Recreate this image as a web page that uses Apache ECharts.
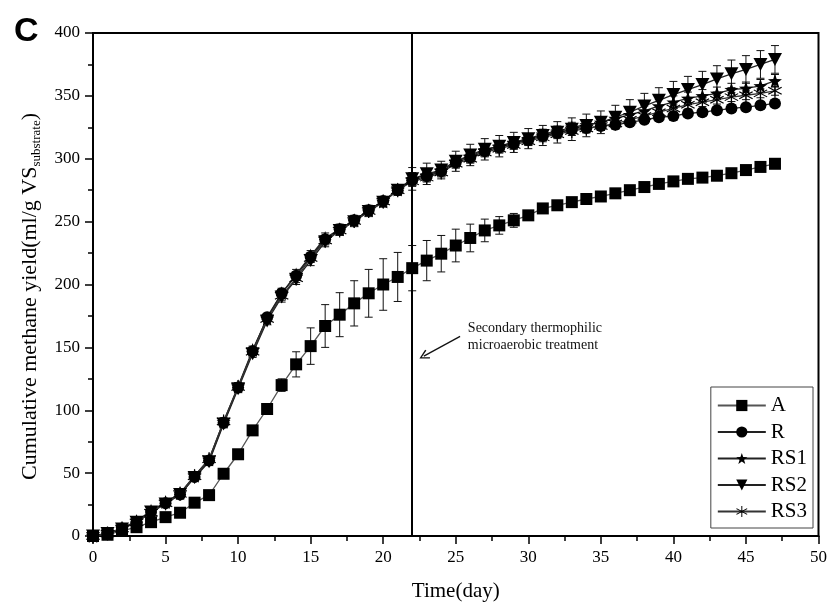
<!DOCTYPE html>
<html><head><meta charset="utf-8">
<script src="https://cdn.jsdelivr.net/npm/echarts@6/dist/echarts.min.js"></script>
<style>html,body{margin:0;padding:0;background:#fff}#c{width:830px;height:607px}</style>
</head><body><div id="c"></div>
<script>
// ---- data ----
const days = [0,1,2,3,4,5,6,7,8,9,10,11,
  12,13,14,15,16,17,18,19,20,21,22,23,
  24,25,26,27,28,29,30,31,32,33,34,35,
  36,37,38,39,40,41,42,43,44,45,46,47];
const seriesNames = ['A','R','RS1','RS2','RS3'];
const valsA = [0,1,4,7,11,15,18.5,26.5,32.5,49.5,65,84,
  101,120,136.5,151,167,176,185,193,200,206,213,219,
  224.5,231,237,243,247,251,255,260.5,263,265.5,268,270,
  272.5,275,277.5,280,282,284,285,286.5,288.5,291,293.5,296];
const errA = [0,0.5,1,1,1.5,1.5,2,3,3,3,3,3,
  3,5,10,14.5,17,17.5,18,19,20.5,19.5,18,16,
  14.5,13,11,9,7,5.5,3.5,2.5,2,2,1.5,1.5,
  1.5,1.5,1.5,1.5,1.5,1.5,1.5,1.5,1.5,1.5,1.5,1.5];
const valsR = [0,2,6,11,19,26,33,47,60,90,118,147,
  174,193,207,222,236,244,251,259,266.5,275,283,286,
  290,297,301,306,309,312,315,318,320.5,323,324.5,326,
  327,329,331,333,334,336,337,338.5,340,341,342.5,344];
const errR = [0,0.5,1,1,1.5,1.5,2,2,2,2.5,3,3,
  3,3,3,3,3,3,3,3,3,3,4,3,
  3,3,3,3,3,3,3,3,3,3,3,3,
  3,3,3,3,3,3,3,3,3,3,3,3];
const valsRS1 = [0,2,6,12,20,27,34,48,61,91,119,148,
  173,193,208,223,237,244,251,259,266,275.5,284,287,
  291,298,302,307,310,313,316,319.5,322,325,327,329,
  332,335,338,342,345,348,350,352,355,356,358,362];
const errRS1 = [0,0.5,1,1,1.5,1.5,2,2,2,3,3,3,
  3,4,4,4,4,4,4,4,4,4,5,4,
  4,4,4,4,4,4,4,4,4,4,4,4,
  4,4,4,5,5,5,5,5,5,5,5,5];
const valsRS2 = [0,2,5.5,11,19,25.5,33,46.5,59,89,117,145,
  171,190,204,219,234,243,250,258,265.5,275,284,288,
  291,298,303,307.5,310,313,316,318.5,321,323.5,326.5,329,
  333,337,342,346.5,351,355,359,363.5,367.5,371,375,379];
const errRS2 = [0,1,1,1.5,2,2,2,2.5,3,3,3,3,
  3,4,4,4,4,4,4,4,4,4,9,8.5,
  7,8,8.5,8.5,8.5,8,8,8,8.5,9,9,9,
  9.5,10,10,10,10.5,10.5,10.5,10.5,11,11,11,11];
const valsRS3 = [0,2,6,11,18.5,26,33.5,47.5,61,91,118.5,146.5,
  172.5,191,205,221,235,243,250.5,258.5,266,275,282,285,
  289,296,300,305,308,311,314,317,319.5,322,324,326,
  328,331,334,337,340,343,345,347,349,350.5,352,354];
const errRS3 = [0,0.5,1,1,1.5,1.5,2,2,2,2.5,3,3,
  3,3.5,3.5,3.5,3.5,3.5,3.5,3.5,3.5,3.5,4,3.5,
  3.5,3.5,3.5,3.5,3.5,3.5,3.5,3.5,3.5,3.5,3.5,3.5,
  3.5,3.5,3.5,3.5,3.5,3.5,3.5,3.5,3.5,3.5,3.5,3.5];
const xTicks = {min:0, max:50, interval:5};
const yTicks = {min:0, max:400, interval:50};
const treatmentDay = 22;
const noteText = 'Secondary thermophilic\nmicroaerobic treatment';
const arrowFrom = [25.3, 158.7];
const arrowTo = [22.8, 143];
const noteAnchor = [25.8, 158.5];

// ---- styles ----
const starPath = 'path://M10,0 L12.35,6.76 L19.51,6.91 L13.8,11.24 L15.88,18.09 L10,14 L4.12,18.09 L6.2,11.24 L0.49,6.91 L7.65,6.76 Z';
const triPath = 'path://M0,0 L20,0 L10,18 Z';
const astPath = 'path://M9.2,0 L10.8,0 L10.8,20 L9.2,20 Z M0.94,5.69 L1.74,4.31 L19.06,14.31 L18.26,15.69 Z M18.26,4.31 L19.06,5.69 L1.74,15.69 L0.94,14.31 Z';
const arrowHead = 'path://M5,0 L10,9 L8.8,9.8 L5,2.6 L1.2,9.8 L0,9 Z';
const serifFont = '"Liberation Serif", "Times New Roman", serif';

function lineSeries(name, vals, symbol, size, lineColor, extra) {
  return Object.assign({
    type: 'line', name: name,
    data: days.map((d, i) => [d, vals[i]]),
    symbol: symbol, symbolSize: size,
    itemStyle: {color: '#000'},
    lineStyle: {color: lineColor, width: 1.3},
    z: 3, animation: false
  }, extra || {});
}
function errSeries(name, vals, errs) {
  return {
    type: 'custom', name: name + ' err', silent: true, z: 2, animation: false,
    data: days.map((d, i) => [d, vals[i] - errs[i], vals[i] + errs[i]]),
    encode: {x: 0, y: [1, 2]},
    renderItem: function (params, api) {
      const x = api.value(0);
      const p1 = api.coord([x, api.value(1)]);
      const p2 = api.coord([x, api.value(2)]);
      const w = 4;
      const st = {stroke: '#111', lineWidth: 1};
      return {type: 'group', children: [
        {type: 'line', shape: {x1: p1[0], y1: p1[1], x2: p2[0], y2: p2[1]}, style: st},
        {type: 'line', shape: {x1: p1[0] - w, y1: p1[1], x2: p1[0] + w, y2: p1[1]}, style: st},
        {type: 'line', shape: {x1: p2[0] - w, y1: p2[1], x2: p2[0] + w, y2: p2[1]}, style: st}
      ]};
    }
  };
}

const chart = echarts.init(document.getElementById('c'), null, {renderer: 'canvas'});
chart.setOption({
  backgroundColor: '#fff',
  animation: false,
  title: {text: 'C', left: 9, top: 10, textStyle: {fontSize: 34, fontWeight: 'bold', fontFamily: '"Liberation Sans", Arial, sans-serif', color: '#000'}},
  grid: {left: 93, right: 7, top: 33, bottom: 69, show: true, borderColor: '#000', borderWidth: 2, containLabel: false},
  legend: {
    orient: 'vertical', right: 17, top: 387,
    data: seriesNames,
    itemWidth: 48, itemHeight: 14, itemGap: 5.5,
    padding: [8, 6, 6, 6],
    borderColor: '#444', borderWidth: 1,
    textStyle: {fontSize: 21, fontFamily: serifFont, color: '#000'}
  },
  xAxis: {
    type: 'value', min: xTicks.min, max: xTicks.max, interval: xTicks.interval,
    name: 'Time(day)', nameLocation: 'middle', nameGap: 45,
    nameTextStyle: {fontSize: 21, fontFamily: serifFont, color: '#000'},
    axisLine: {show: true, lineStyle: {color: '#000', width: 2}},
    axisTick: {show: true, inside: false, length: 8, lineStyle: {color: '#000', width: 1.5}},
    minorTick: {show: true, splitNumber: 2, length: 5, lineStyle: {color: '#000', width: 1.5}},
    splitLine: {show: false},
    axisLabel: {fontSize: 17, fontFamily: serifFont, color: '#000', margin: 13}
  },
  yAxis: {
    type: 'value', min: yTicks.min, max: yTicks.max, interval: yTicks.interval,
    name: 'Cumulative methane yield(ml/g VS{s|substrate})', nameLocation: 'middle', nameGap: 50, nameRotate: 90,
    nameTextStyle: {fontSize: 22, fontFamily: serifFont, color: '#000', lineHeight: 26, padding: [0, 24, 0, 0],
      rich: {s: {fontSize: 13, fontFamily: serifFont, color: '#000', verticalAlign: 'bottom', lineHeight: 14}}},
    axisLine: {show: true, lineStyle: {color: '#000', width: 2}},
    axisTick: {show: true, inside: false, length: 8, lineStyle: {color: '#000', width: 1.5}},
    minorTick: {show: true, splitNumber: 2, length: 5, lineStyle: {color: '#000', width: 1.5}},
    splitLine: {show: false},
    axisLabel: {fontSize: 17, fontFamily: serifFont, color: '#000', margin: 13}
  },
  series: [
    errSeries('A', valsA, errA),
    errSeries('R', valsR, errR),
    errSeries('RS1', valsRS1, errRS1),
    errSeries('RS2', valsRS2, errRS2),
    errSeries('RS3', valsRS3, errRS3),
    lineSeries('A', valsA, 'rect', 12, '#555', {
      markLine: {silent: true, symbol: ['none', 'none'], label: {show: false},
        lineStyle: {color: '#000', width: 2, type: 'solid'},
        data: [{xAxis: treatmentDay}]}
    }),
    lineSeries('R', valsR, 'circle', 12, '#222', {
      markLine: {silent: true, symbol: ['none', arrowHead], symbolSize: [10, 10], label: {show: false},
        lineStyle: {color: '#111', width: 1.3, type: 'solid'},
        data: [[{coord: arrowFrom}, {coord: arrowTo}]]}
    }),
    lineSeries('RS1', valsRS1, starPath, 14, '#222', {
      markPoint: {silent: true, symbol: 'circle', symbolSize: 1, itemStyle: {color: 'rgba(0,0,0,0)'},
        data: [{coord: noteAnchor, label: {show: true, position: 'right', distance: 0, formatter: noteText,
          fontSize: 14, lineHeight: 17, fontFamily: serifFont, color: '#111'}}]}
    }),
    lineSeries('RS2', valsRS2, triPath, [14, 13], '#222'),
    lineSeries('RS3', valsRS3, astPath, 14, '#333')
  ]
});
</script></body></html>
